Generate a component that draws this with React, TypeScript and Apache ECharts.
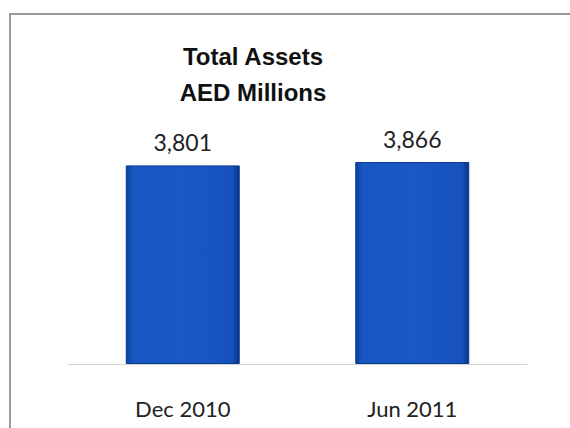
import React, { useEffect, useRef } from "react";
import * as echarts from "echarts";

const categories = ["Dec 2010", "Jun 2011"];
const values = [3801, 3866];
const titleLines = ["Total Assets", "AED Millions"];

export default function App() {
  const ref = useRef<HTMLDivElement>(null);
  useEffect(() => {
    if (!ref.current) return;
    const chart = echarts.init(ref.current, null, { renderer: "svg" });
    const barColor = new echarts.graphic.LinearGradient(0, 0, 1, 0, [
      { offset: 0, color: "#0d3f9e" },
      { offset: 0.06, color: "#1856c2" },
      { offset: 0.5, color: "#1a58c6" },
      { offset: 0.94, color: "#1652bc" },
      { offset: 1, color: "#0a3386" },
    ]);
    chart.setOption({
      animation: false,
      backgroundColor: "#ffffff",
      title: {
        text: titleLines.join("\n"),
        left: 248,
        top: 33,
        textAlign: "center",
        textStyle: {
          fontFamily: "Liberation Sans",
          fontWeight: "bold",
          fontSize: 24,
          lineHeight: 36,
          color: "#111111",
        },
      },
      graphic: [
        {
          type: "rect",
          shape: { x: 10, y: 14, width: 620, height: 500 },
          style: { fill: "none", stroke: "#9a9a94", lineWidth: 2 },
          silent: true,
        },
      ],
      grid: { left: 68, right: 43, top: 155, bottom: 64 },
      xAxis: {
        type: "category",
        data: categories,
        axisLine: { lineStyle: { color: "#d4d4d4", width: 1 } },
        axisTick: { show: false },
        axisLabel: {
          margin: 33,
          fontFamily: "Lato",
          fontSize: 22,
          color: "#222222",
        },
      },
      yAxis: {
        type: "value",
        min: 0,
        max: 4000,
        show: false,
        splitLine: { show: false },
      },
      series: [
        {
          type: "bar",
          data: values,
          barWidth: 114,
          itemStyle: {
            color: barColor,
            borderColor: "#0b3a90",
            borderWidth: 1,
          },
          label: {
            show: true,
            position: "top",
            distance: 12,
            fontFamily: "Lato",
            fontSize: 23,
            color: "#222222",
            formatter: (p: any) => p.value.toLocaleString("en-US"),
          },
        },
      ],
    });
    return () => chart.dispose();
  }, []);
  return (
    <div
      ref={ref}
      style={{ position: "fixed", left: 0, top: 0, width: 570, height: 428 }}
    />
  );
}
